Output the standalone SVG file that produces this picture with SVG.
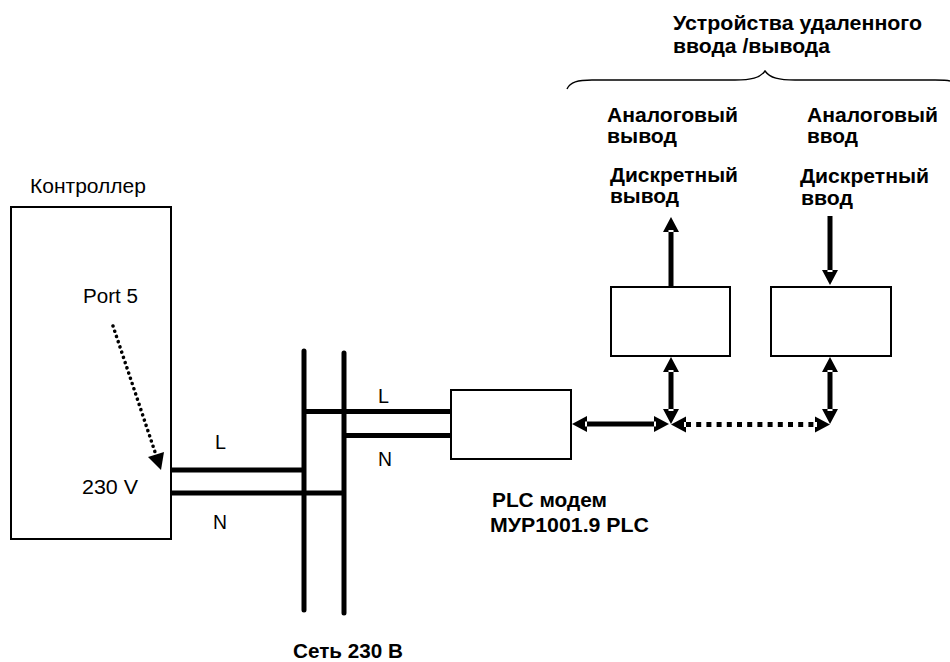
<svg xmlns="http://www.w3.org/2000/svg" width="950" height="662" viewBox="0 0 950 662">
<style>
text{font-family:"Liberation Sans",Arial,sans-serif;font-size:20px;fill:#000}
.b{font-weight:bold}
.box{fill:#fff;stroke:#000;stroke-width:2}
.w{fill:none;stroke:#000;stroke-width:5}
.h{fill:#000}
.n{fill:#fff}
</style>
<defs>
<g id="ah"><path class="h" d="M0 0L-8 15H8Z"/><rect class="n" x="-2.5" y="13" width="5" height="2"/></g>
</defs>
<rect width="950" height="662" fill="#fff"/>
<g id="controller"><rect class="box" x="11" y="207" width="160" height="332"/>
<text x="30" y="193" textLength="116" lengthAdjust="spacingAndGlyphs">Контроллер</text>
<text x="83" y="303" textLength="55" lengthAdjust="spacingAndGlyphs">Port 5</text>
<text x="82" y="494" textLength="56" lengthAdjust="spacingAndGlyphs">230 V</text></g>
<g id="plc"><rect class="box" x="451" y="390" width="120" height="69"/>
<text class="b" x="492" y="507" textLength="115" lengthAdjust="spacingAndGlyphs">PLC модем</text>
<text class="b" x="490" y="532" textLength="159" lengthAdjust="spacingAndGlyphs">МУР1001.9 PLC</text></g>
<g id="device-out"><rect class="box" x="611" y="287" width="119" height="69"/>
<text class="b" x="607" y="122" textLength="131" lengthAdjust="spacingAndGlyphs">Аналоговый</text>
<text class="b" x="607" y="143" textLength="70" lengthAdjust="spacingAndGlyphs">вывод</text>
<text class="b" x="610" y="182" textLength="128" lengthAdjust="spacingAndGlyphs">Дискретный</text>
<text class="b" x="610" y="203" textLength="69" lengthAdjust="spacingAndGlyphs">вывод</text></g>
<g id="device-in"><rect class="box" x="771" y="287" width="120" height="69"/>
<text class="b" x="807" y="122" textLength="131" lengthAdjust="spacingAndGlyphs">Аналоговый</text>
<text class="b" x="807" y="143" textLength="51" lengthAdjust="spacingAndGlyphs">ввод</text>
<text class="b" x="800" y="183" textLength="129" lengthAdjust="spacingAndGlyphs">Дискретный</text>
<text class="b" x="801" y="205" textLength="52" lengthAdjust="spacingAndGlyphs">ввод</text></g>
<g id="connectors">
<path class="w" d="M171 470H304M171 493H344M304 411.5H451M344 435.5H451"/>
<path class="w" stroke-linecap="round" d="M304 351V610M344 353V613"/>
<path d="M113 326L156 455" fill="none" stroke="#000" stroke-width="3.6" stroke-dasharray="0.01 5.5" stroke-linecap="round"/>
<path class="h" d="M161 470L148 457L164 452Z"/>
<path class="w" d="M671 287V232"/><use href="#ah" x="671" y="217"/>
<path class="w" d="M830 216V271"/><use href="#ah" transform="translate(830 285) rotate(180)"/>
<path class="w" d="M671 371V415"/><use href="#ah" x="671" y="357"/><use href="#ah" transform="translate(671 424) rotate(180)"/>
<path class="w" d="M830 371V415"/><use href="#ah" x="830" y="357"/><use href="#ah" transform="translate(830 424) rotate(180)"/>
<path class="w" d="M586 424H655"/><use href="#ah" transform="translate(572 424) rotate(-90)"/><use href="#ah" transform="translate(669 424) rotate(90)"/>
<path class="w" d="M686 424.5H816" stroke-dasharray="5 5.2"/><use href="#ah" transform="translate(671 424.5) rotate(-90)"/><use href="#ah" transform="translate(830 424.5) rotate(90)"/>
<path d="M567 89C570 82 578 80 592 80H735C751 80 760 78 765 71C770 78 779 80 795 80H935C942 80 947 80 950 81" fill="none" stroke="#000" stroke-width="1.4"/>
</g>
<g id="labels">
<text x="215" y="449" textLength="11" lengthAdjust="spacingAndGlyphs">L</text>
<text x="213" y="529" textLength="14" lengthAdjust="spacingAndGlyphs">N</text>
<text x="378" y="403" textLength="11" lengthAdjust="spacingAndGlyphs">L</text>
<text x="378" y="466" textLength="14" lengthAdjust="spacingAndGlyphs">N</text>
<text class="b" x="673" y="30" textLength="249" lengthAdjust="spacingAndGlyphs">Устройства удаленного</text>
<text class="b" x="673" y="53" textLength="157" lengthAdjust="spacingAndGlyphs">ввода /вывода</text>
<text class="b" x="293" y="658" textLength="110" lengthAdjust="spacingAndGlyphs">Сеть 230 В</text>
</g>
</svg>
